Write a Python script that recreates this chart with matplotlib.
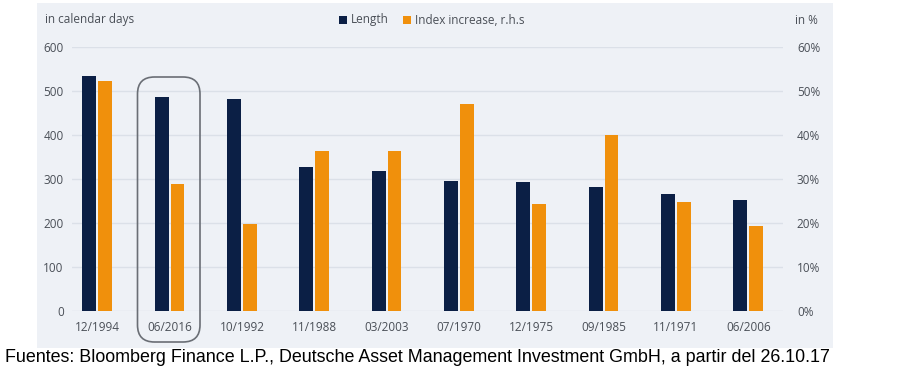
import matplotlib.pyplot as plt
import numpy as np
from matplotlib.patches import Rectangle, FancyBboxPatch
from matplotlib.ticker import FuncFormatter

periods = ['12/1994', '06/2016', '10/1992', '11/1988', '03/2003',
           '07/1970', '12/1975', '09/1985', '11/1971', '06/2006']
length_days = [533, 486, 482, 327, 317, 295, 292, 281, 265, 252]
index_increase = [52.3, 28.8, 19.7, 36.4, 36.4, 47.1, 24.3, 40.0, 24.8, 19.3]

navy = '#0b1f45'
orange = '#f0900c'
bg = '#eef1f6'
grid = '#dbe0e8'
txt = '#4a4f57'

plt.rcParams['font.family'] = ['Open Sans', 'DejaVu Sans']

fig = plt.figure(figsize=(9.12, 3.85), dpi=100)
fig.patch.set_facecolor('white')
fig.patches.append(Rectangle((37 / 912, 1 - 348 / 385), (833 - 37) / 912, (348 - 3) / 385,
                             transform=fig.transFigure, facecolor=bg, edgecolor='none', zorder=-5))

ax = fig.add_axes([72 / 912, 1 - 311 / 385, (783 - 72) / 912, (311 - 46.7) / 385])
ax.set_facecolor('none')
ax2 = ax.twinx()

x = np.arange(len(periods))
w = 0.19
ax.bar(x - 0.11, length_days, w, color=navy, zorder=3)
ax2.bar(x + 0.11, index_increase, w, color=orange, zorder=3)

ax.set_ylim(0, 600)
ax2.set_ylim(0, 60)
ax.set_xlim(-0.35, 9.48)
ax.set_yticks(np.arange(0, 601, 100))
ax2.set_yticks(np.arange(0, 61, 10))
ax2.yaxis.set_major_formatter(FuncFormatter(lambda v, p: '%d%%' % v))
ax.yaxis.grid(True, color=grid, lw=1)
ax.set_axisbelow(True)

for a in (ax, ax2):
    for s in a.spines.values():
        s.set_visible(False)
    a.tick_params(length=0, labelsize=8.5, labelcolor=txt)
ax.tick_params(axis='y', pad=6)
ax2.tick_params(axis='y', pad=10)
ax.set_xticks(x)
ax.set_xticklabels(periods)
ax.tick_params(axis='x', pad=7)

# highlight box around 06/2016 (inches)
box = FancyBboxPatch((1.375, 0.43), 0.625, 2.65,
                     boxstyle='round,pad=0,rounding_size=0.17', transform=fig.dpi_scale_trans,
                     facecolor='none', edgecolor='#6a6e75', lw=1.2, zorder=5)
fig.patches.append(box)

fig.text(45 / 912, 1 - 20 / 385, 'in calendar days', fontsize=8.5, color=txt, va='center')
fig.text(818 / 912, 1 - 20 / 385, 'in %', fontsize=8.5, color=txt, va='center', ha='right')
fig.patches.append(Rectangle((339 / 912, 1 - 24 / 385), 8 / 912, 8 / 385, transform=fig.transFigure,
                             facecolor=navy, edgecolor='none'))
fig.text(351 / 912, 1 - 20 / 385, 'Length', fontsize=8.5, color=txt, va='center')
fig.patches.append(Rectangle((403 / 912, 1 - 24 / 385), 8 / 912, 8 / 385, transform=fig.transFigure,
                             facecolor=orange, edgecolor='none'))
fig.text(415 / 912, 1 - 20 / 385, 'Index increase, r.h.s', fontsize=8.5, color=txt, va='center')

fig.text(5 / 912, 1 - 357 / 385,
         'Fuentes: Bloomberg Finance L.P., Deutsche Asset Management Investment GmbH, a partir del 26.10.17',
         fontsize=12.9, color='black', family='Liberation Sans', va='center')

fig.savefig('out.png', dpi=100)
